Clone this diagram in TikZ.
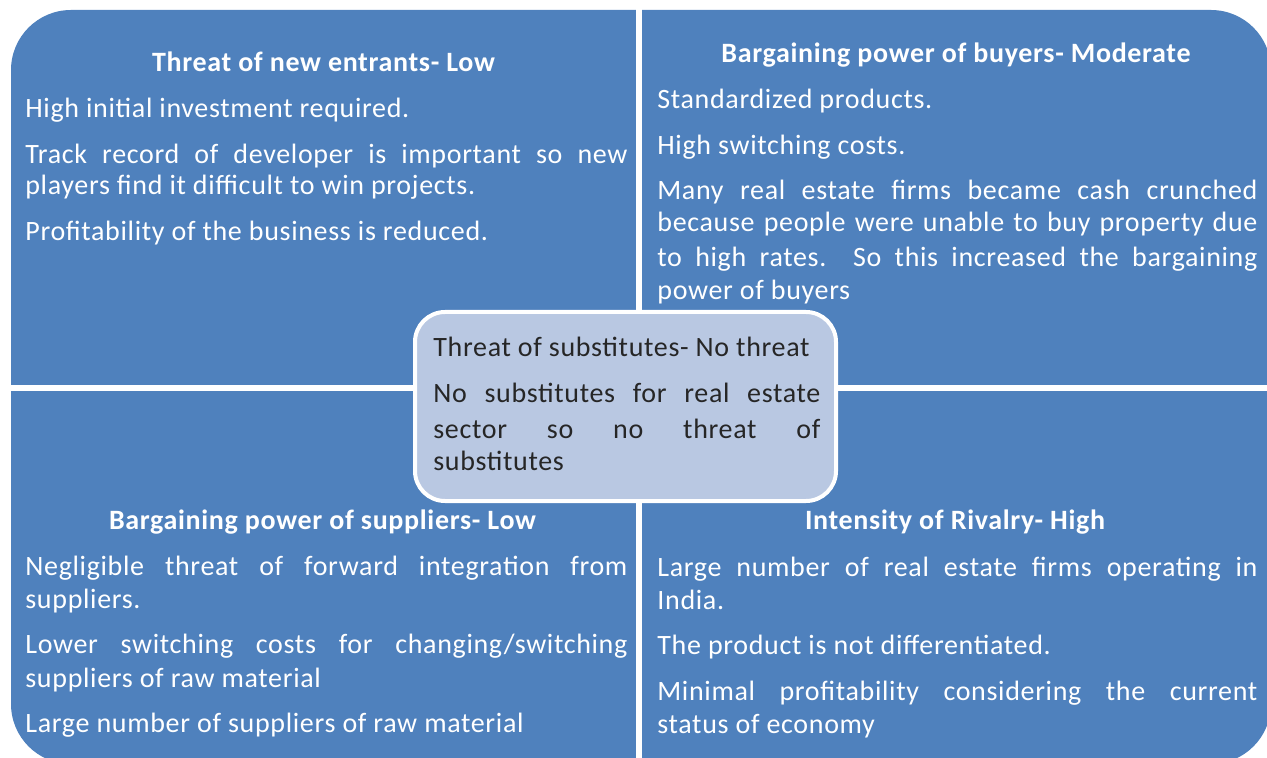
\documentclass[tikz,border=0pt]{standalone}
\usepackage{fontspec}
\setmainfont{Carlito}
\definecolor{quadblue}{HTML}{4F81BD}
\definecolor{hubfill}{HTML}{B9C8E2}
\definecolor{hubtext}{HTML}{262626}
% a justified line of given width (interword spaces stretched)
\newcommand\fullline[2]{\makebox[#1][s]{#2}}
\newcommand\panelfont{\fontsize{14}{16.5}\selectfont\addfontfeature{LetterSpace=2.4}}
\begin{document}
\begin{tikzpicture}[x=0.5pt,y=-0.5pt,
  txt/.style={anchor=base west, inner sep=0pt, text=white, font=\panelfont},
  head/.style={anchor=base, inner sep=0pt, text=white, font=\bfseries\panelfont},
  hubtxt/.style={anchor=base west, inner sep=0pt, text=hubtext, font=\panelfont},
  hub/.style={draw=white, line width=2pt, fill=hubfill, rounded corners=15pt,
    minimum width=210.5pt, minimum height=94.5pt, inner sep=0pt}]
\useasboundingbox (0,0) rectangle (1267,758);

% four quadrants: one rounded block split by white gutters
\fill[quadblue, rounded corners=30pt] (11,10) rectangle (1271,764);
\fill[white] (636,0) rectangle (642,770);
\fill[white] (0,385) rectangle (1280,391);

% top left
\node[head] (tlh) at (323.5,72) {Threat of new entrants- Low};
\node[txt] (tl1) at (25,118) {High initial investment required.};
\node[txt] (tl2) at (25,164) {\fullline{301pt}{Track record of developer is important so new}};
\node[txt] (tl3) at (25,195) {players find it difficult to win projects.};
\node[txt] (tl4) at (25,241) {Profitability of the business is reduced.};

% top right
\node[head] (trh) at (956,63) {Bargaining power of buyers- Moderate};
\node[txt] (tr1) at (657,109) {Standardized products.};
\node[txt] (tr2) at (657,155) {High switching costs.};
\node[txt] (tr3) at (657,200) {\fullline{300pt}{Many real estate firms became cash crunched}};
\node[txt] (tr4) at (657,232) {\fullline{300pt}{because people were unable to buy property due}};
\node[txt] (tr5) at (657,267) {\fullline{300pt}{to high rates.\ \ So this increased the bargaining}};
\node[txt] (tr6) at (657,300) {power of buyers};

% bottom left
\node[head] (blh) at (322.5,529) {Bargaining power of suppliers- Low};
\node[txt] (bl1) at (25,575) {\fullline{301pt}{Negligible threat of forward integration from}};
\node[txt] (bl2) at (25,608) {suppliers.};
\node[txt] (bl3) at (25,653) {\fullline{301pt}{Lower switching costs for changing/switching}};
\node[txt] (bl4) at (25,687) {suppliers of raw material};
\node[txt] (bl5) at (25,732) {Large number of suppliers of raw material};

% bottom right
\node[head] (brh) at (955,529) {Intensity of Rivalry- High};
\node[txt] (br1) at (657,576) {\fullline{300pt}{Large number of real estate firms operating in}};
\node[txt] (br2) at (657,609) {India.};
\node[txt] (br3) at (657,654) {The product is not differentiated.};
\node[txt] (br4) at (657,700) {\fullline{300pt}{Minimal profitability considering the current}};
\node[txt] (br5) at (657,733) {status of economy};

% centre box
\node[hub] (hub) at (625.5,406.5) {};
\node[hubtxt] (hubh) at (433,357) {Threat of substitutes- No threat};
\node[hubtxt] (hub1) at (433,403) {\fullline{193.5pt}{No substitutes for real estate}};
\node[hubtxt] (hub2) at (433,438) {\fullline{193.5pt}{sector so no threat of}};
\node[hubtxt] (hub3) at (433,470) {substitutes};
\end{tikzpicture}
\end{document}
